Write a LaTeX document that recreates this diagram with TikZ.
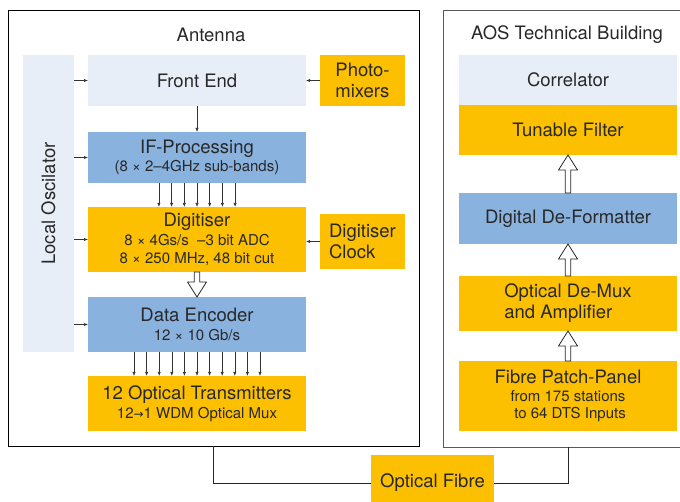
\documentclass[tikz,border=0pt]{standalone}
\usepackage{fontspec}
\setmainfont{TeX Gyre Heros}
\newfontfamily\dejavu{DejaVu Sans}
\usepackage{tikz}
\usetikzlibrary{arrows.meta, positioning, calc}
\definecolor{almayellow}{RGB}{252,192,0}
\definecolor{almablue}{RGB}{137,178,223}
\definecolor{almapale}{RGB}{232,238,248}
\definecolor{almatext}{RGB}{40,40,40}
\newcommand{\bigtxt}{\fontsize{18.5}{21.5}\selectfont}
\newcommand{\smalltxt}{\fontsize{15}{18}\selectfont}
\tikzset{
  box/.style={
    rectangle, inner sep=0pt, outer sep=0pt,
    text=almatext, font=\bigtxt, align=center
  },
  palebox/.style={box, fill=almapale},
  bluebox/.style={box, fill=almablue},
  yellowbox/.style={box, fill=almayellow},
  colbox/.style={minimum width=218pt},
  sidebox/.style={minimum width=85pt, align=left},
  frame/.style={rectangle, draw, line width=1pt, inner sep=0pt, outer sep=0pt},
  title/.style={text=almatext, font=\bigtxt, inner sep=0pt},
  arrow/.style={line width=0.6pt, draw=black!80, -{Latex[length=4pt,width=3.2pt]}},
  fibre/.style={line width=0.9pt, draw=black!85},
  hollow/.style={line width=0.8pt, draw=black!85, fill=white, line join=miter},
}
% open block arrow between two anchors
\newcommand{\hollowarrow}[2]{%
  \draw[hollow] let \p1=(#1), \p2=(#2), \p3=($(#2)!15pt!(#1)$) in
    (\x1-2.8pt,\y1) -- (\x1-2.8pt,\y3) -- (\x1-9.5pt,\y3) -- (\x2,\y2)
    -- (\x1+9.5pt,\y3) -- (\x1+2.8pt,\y3) -- (\x1+2.8pt,\y1) -- cycle;}

\begin{document}
\begin{tikzpicture}[x=1pt, y=-1pt]
  \useasboundingbox (0,0) rectangle (680,502);
  \clip (0,0) rectangle (680,502);

  % frames
  \node (antenna) [frame, minimum width=411pt, minimum height=435pt] at (213.5,228.5) {};
  \node (aos) [frame, draw=black!65, minimum width=247pt, minimum height=436pt] at (566.5,229) {};
  \node (anttitle) [title] at (211,35) {Antenna};
  \node (aostitle) [title] at (567,35) {AOS Technical Building};

  % antenna chain
  \node (lo)  [palebox, minimum width=51pt, minimum height=297pt] at (48.5,203.5) {};
  \node (lotext) [title, rotate=90] at (lo) {Local Oscilator};
  \node (fe)  [palebox, colbox, minimum height=51pt] at (197,80.5) {Front End};
  \node (ifp) [bluebox, colbox, minimum height=51pt, below=26pt of fe]
    {IF-Processing\\[-3pt]{\smalltxt (8 × 2–4GHz sub-bands)}};
  \node (dig) [yellowbox, colbox, minimum height=65pt, below=24pt of ifp]
    {Digitiser\\[-3pt]{\smalltxt 8 × 4Gs/s\ \ –3 bit ADC}\\[-3pt]{\smalltxt 8 × 250 MHz, 48 bit cut}};
  \node (enc) [bluebox, colbox, minimum height=55pt, below=25pt of dig]
    {Data Encoder\\[-3pt]{\smalltxt 12 × 10 Gb/s}};
  \node (otx) [yellowbox, colbox, minimum height=55pt, below=24pt of enc]
    {12 Optical Transmitters\\[-3pt]{\smalltxt 12{\dejavu\fontsize{12}{12}\selectfont→}1 WDM Optical Mux}};
  \node (pm)  [yellowbox, sidebox, minimum height=51pt] at (362.5,80.5) {Photo-\\mixers};
  \node (clk) [yellowbox, sidebox, minimum height=55pt] at (362.5,241.5) {Digitiser\\Clock};

  % building chain
  \node (cor) [palebox, colbox, minimum height=50pt] at (568,80) {Correlator};
  \node (tf)  [yellowbox, colbox, minimum height=50pt, below=0pt of cor] {Tunable Filter};
  \node (ddf) [bluebox, colbox, minimum height=51pt, below=38pt of tf] {Digital De-Formatter};
  \node (dmx) [yellowbox, colbox, minimum height=55pt, below=32pt of ddf]
    {\begin{tabular}{@{}l@{}}Optical De-Mux\\and Amplifier\end{tabular}};
  \node (fpp) [yellowbox, colbox, minimum height=70pt, below=30pt of dmx]
    {Fibre Patch-Panel\\[-4pt]{\smalltxt from 175 stations}\\[-4pt]{\smalltxt \ to 64 DTS Inputs}};

  \node (fibre) [yellowbox, minimum width=123pt, minimum height=56pt] at (432.5,483) {Optical Fibre};

  % signal arrows
  \foreach \b in {fe, ifp, dig, enc}
    \draw [arrow] (lo.east |- \b.west) -- (\b.west);
  \draw [arrow] (pm.west) -- (pm.west -| fe.east);
  \draw [arrow] (clk.west) -- (clk.west -| dig.east);
  \draw [arrow] (fe) -- (ifp);
  \foreach \i in {-3,...,3}
    \draw [arrow] ([xshift=\i*12.7pt]ifp.south) -- ([xshift=\i*12.7pt]dig.north);
  \foreach \i in {-5,...,5}
    \draw [arrow] ([xshift=\i*12.6pt]enc.south) -- ([xshift=\i*12.6pt]otx.north);

  \hollowarrow{dig.south}{enc.north}
  \hollowarrow{ddf.north}{tf.south}
  \hollowarrow{dmx.north}{ddf.south}
  \hollowarrow{fpp.north}{dmx.south}

  % fibre link
  \draw [fibre] (antenna.south) |- (fibre.west);
  \draw [fibre] (fibre.east) -| (fpp.south |- aos.south);
\end{tikzpicture}
\end{document}
